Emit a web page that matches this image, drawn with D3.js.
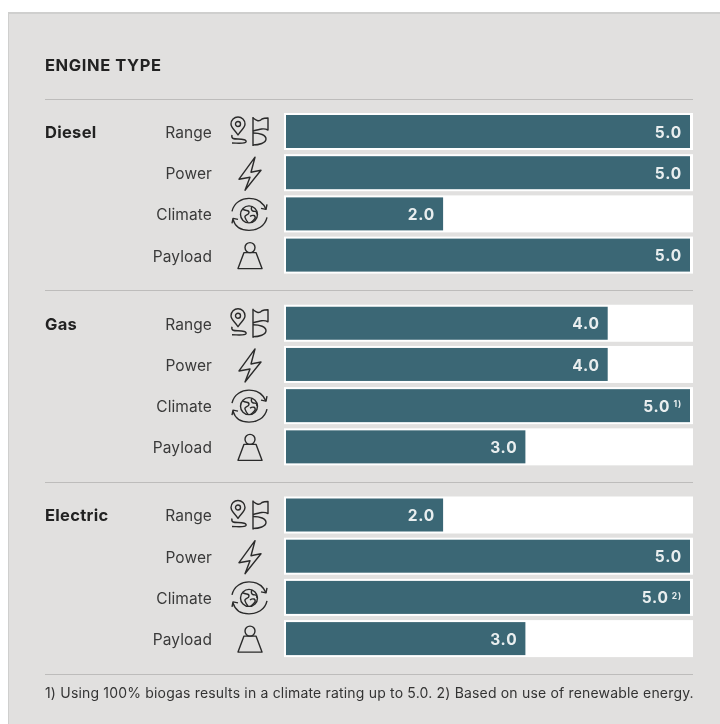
<!DOCTYPE html>
<html><head><meta charset="utf-8">
<script src="https://cdn.jsdelivr.net/npm/d3@7/dist/d3.min.js"></script>
<style>html,body{margin:0;padding:0;background:#fff}svg{display:block;filter:blur(0.35px)}text{font-family:Inter,"Open Sans",sans-serif}</style>
</head><body><div id="chart"></div>
<script>
const title = "ENGINE TYPE";
const engines = ["Diesel", "Gas", "Electric"];
const metrics = ["Range", "Power", "Climate", "Payload"];
const dieselValues = [5, 5, 2, 5];
const gasValues = [4, 4, 5, 3];
const electricValues = [2, 5, 5, 3];
const valueSets = [dieselValues, gasValues, electricValues];
const notes = {"Gas|Climate": "1)", "Electric|Climate": "2)"};
const footnote = "1) Using 100% biogas results in a climate rating up to 5.0. 2) Based on use of renewable energy.";

const W = 720, H = 724;
const svg = d3.select("#chart").append("svg").attr("width", W).attr("height", H);
svg.append("rect").attr("x", 8).attr("y", 12).attr("width", W - 8).attr("height", H - 12).attr("fill", "#cfcfce");
svg.append("rect").attr("x", 9).attr("y", 14).attr("width", W - 9).attr("height", H - 14).attr("fill", "#e1e0df");

const ink = "#222", teal = "#3b6775", rule = "#bdbcbb";
const x = d3.scaleLinear().domain([0, 5]).range([278.5, 690]);
const barStart = 286;
const groupY = d3.scalePoint().domain(engines).range([132, 515.5]);
const rowY = d3.scalePoint().domain(metrics).range([0, 123.6]);

const icons = {
  Range: ["M-13,3C-16,-2 -20,-4 -20,-8A7,7 0 1 1 -6,-8C-6,-4 -10,-2 -13,3Z",
          "M-15.5,-8a2.5,2.5 0 1 0 5,0a2.5,2.5 0 1 0 -5,0Z",
          "M-19,3C-20,7 -17,7 -13,7C-8,7 -4,8 -5,10C-6,12 -14,11 -19,11",
          "M2,-15L2,14",
          "M2,-14C6,-11 8,-10 11,-13C13,-14 15,-14 17,-14L17,-2C13,-4 9,-3 2,-1",
          "M2,1C9,1 15,3 15,7C15,11 8,13 2,13"],
  Power: ["M4,-16L-12,6L-1,4L-6,17L10,-3L0,-1Z"],
  Climate: ["M6.5,0a8.5,8.5 0 1 1 -17,0a8.5,8.5 0 1 1 17,0Z",
            "M-8,-5C-5,-3 -2,-5 -2,-2C-2,1 -7,0 -6,3C-5,6 -4,7 -3,8",
            "M1,-8C-1,-4 2,-3 4,-3C6,-3 6,-1 6,0",
            "M-1,2C2,0 5,1 4,4C3,6 1,7 0,8",
            "M-19,-3C-17,-12 -9,-16 -2,-16C6,-16 12,-12 15,-5",
            "M16,-10L15,-5L10,-6",
            "M16,3C14,12 6,16 -2,16C-10,16 -16,12 -18,5",
            "M-19,9L-18,4L-13,5"],
  Payload: ["M4,-8a5,5 0 1 1 -10,0a5,5 0 1 1 10,0Z",
            "M-7,-3L5,-3L11,13L-13,13Z"]
};

const line = (y) => svg.append("line").attr("x1", 45).attr("x2", 693).attr("y1", y).attr("y2", y)
  .attr("stroke", rule).attr("stroke-width", 1);
[99.5, 290.5, 482.5, 674.5].forEach(line);

svg.append("text").attr("x", 45).attr("y", 71).attr("font-size", 16.5).attr("font-weight", 700)
  .attr("letter-spacing", 0.6).attr("fill", ink).text(title);

engines.forEach((eng, gi) => {
  const g = svg.append("g").attr("transform", `translate(0,${groupY(eng)})`);
  g.append("text").attr("x", 45).attr("y", 0).attr("dy", "0.35em").attr("font-size", 16.5).attr("font-weight", 700)
    .attr("letter-spacing", 0.3).attr("fill", ink).text(eng);
  const rows = g.selectAll("g.row").data(metrics.map((m, i) => ({m, v: valueSets[gi][i]}))).join("g")
    .attr("class", "row").attr("transform", d => `translate(0,${rowY(d.m)})`);
  rows.append("text").attr("x", 212).attr("y", 0.5).attr("dy", "0.35em").attr("text-anchor", "end")
    .attr("font-size", 15.5).attr("letter-spacing", 0.1).attr("fill", "#3a3a3a").text(d => d.m);
  rows.append("g").attr("transform", "translate(251,0)")
    .selectAll("path").data(d => icons[d.m]).join("path").attr("d", d => d)
    .attr("fill", "none").attr("stroke", "#2a2a2a").attr("stroke-width", 1.4).attr("stroke-linejoin", "round");
  rows.append("rect").attr("x", 284).attr("y", -19).attr("width", 409).attr("height", 37).attr("fill", "#fff");
  rows.append("rect").attr("x", barStart).attr("y", -17).attr("width", d => x(d.v) - barStart).attr("height", 33).attr("fill", teal);
  const lab = rows.append("text").attr("y", 0).attr("dy", "0.36em").attr("text-anchor", "end").attr("fill", "#e9eeef")
    .attr("font-size", 15.5).attr("font-weight", 700).attr("letter-spacing", 0.8)
    .attr("x", d => x(d.v) - 8);
  lab.append("tspan").text(d => d3.format(".1f")(d.v));
  lab.filter(d => notes[eng + "|" + d.m]).append("tspan").attr("dx", 3).attr("dy", "-0.5em")
    .attr("font-size", 8.5).text(d => notes[eng + "|" + d.m]);
});

svg.append("text").attr("x", 45).attr("y", 698).attr("font-size", 14).attr("letter-spacing", 0.18).attr("fill", "#333").text(footnote);
</script></body></html>
